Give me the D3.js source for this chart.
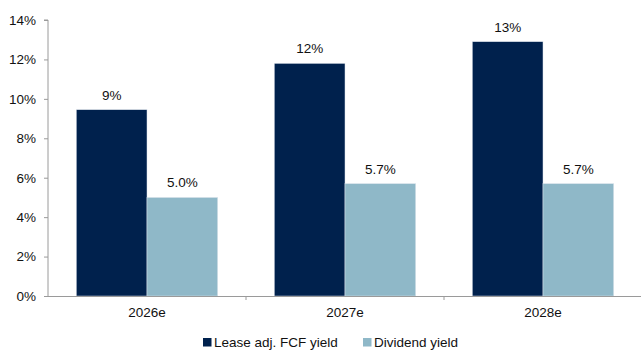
<!DOCTYPE html>
<html>
<head>
<meta charset="utf-8">
<script src="https://cdn.jsdelivr.net/npm/d3@7/dist/d3.min.js"></script>
<style>
  html, body { margin: 0; padding: 0; background: #fff; }
  svg { display: block; font-family: "Liberation Sans", Arial, sans-serif; }
</style>
</head>
<body>
<svg id="chart" width="641" height="352"></svg>
<script>
// Chart data
const categories = ["2026e", "2027e", "2028e"];
const seriesNames = ["Lease adj. FCF yield", "Dividend yield"];
const fcfYield = [9.45, 11.8, 12.9];
const dividendYield = [5.0, 5.7, 5.7];
const yTicks = [0, 2, 4, 6, 8, 10, 12, 14];
const seriesColors = ["#00214D", "#8FB8C8"];
const labelFormats = [d3.format(".0f"), d3.format(".1f")];

const series = [fcfYield, dividendYield];

const svg = d3.select("#chart");
const margin = { left: 48 };

const x = d3.scaleBand()
  .domain(categories)
  .range([margin.left, 642])
  .paddingInner(0)
  .paddingOuter(0);

const inner = d3.scaleBand()
  .domain(d3.range(series.length))
  .range([0, x.bandwidth()])
  .paddingInner(0)
  .paddingOuter(0.4);

const y = d3.scaleLinear()
  .domain([0, 14])
  .range([296, 20]);

const axisColor = "#9a9a9a";
const textColor = "#111";
const fontSize = "13.5px";

// Y axis
const yAxis = svg.append("g")
  .attr("transform", `translate(${margin.left},0)`)
  .call(d3.axisLeft(y).tickValues(yTicks).tickSize(4).tickPadding(8)
    .tickFormat(d => d + "%"));
yAxis.select(".domain").attr("stroke", axisColor).attr("d", `M-4,${y(14)}H0V${y(0)}`);
yAxis.selectAll(".tick line").attr("stroke", axisColor);
yAxis.selectAll(".tick text")
  .attr("fill", textColor)
  .style("font-size", fontSize)
  .style("font-family", "'Liberation Sans', Arial, sans-serif");

// Bars
const groups = svg.append("g").selectAll("g")
  .data(categories)
  .join("g")
  .attr("transform", d => `translate(${x(d)},0)`);

series.forEach((vals, si) => {
  groups.append("rect")
    .attr("x", inner(si))
    .attr("width", inner.bandwidth())
    .attr("y", (d, i) => y(vals[i]))
    .attr("height", (d, i) => y(0) - y(vals[i]))
    .attr("fill", seriesColors[si])
    .attr("stroke", "#dfe6ee")
    .attr("stroke-width", 0.5);

  groups.append("text")
    .attr("x", inner(si) + inner.bandwidth() / 2)
    .attr("y", (d, i) => y(vals[i]) - 10)
    .attr("text-anchor", "middle")
    .attr("fill", textColor)
    .style("font-size", fontSize)
    .text((d, i) => labelFormats[si](vals[i]) + "%");
});

// X axis
const xAxis = svg.append("g")
  .attr("transform", `translate(0,${y(0)})`)
  .call(d3.axisBottom(x).tickSize(0).tickPadding(11));
xAxis.select(".domain").attr("stroke", axisColor).attr("d", `M${margin.left},0.5H641`);
xAxis.selectAll(".tick text")
  .attr("fill", textColor)
  .style("font-size", fontSize)
  .style("font-family", "'Liberation Sans', Arial, sans-serif");

// Separators between categories
svg.append("g").selectAll("line")
  .data(categories.slice(1))
  .join("line")
  .attr("x1", d => x(d)).attr("x2", d => x(d))
  .attr("y1", y(0)).attr("y2", y(0) + 4)
  .attr("stroke", axisColor);

// Legend
const legend = svg.append("g").attr("transform", "translate(0,347)");
const legendItems = [
  { name: seriesNames[0], color: seriesColors[0], x: 203 },
  { name: seriesNames[1], color: seriesColors[1], x: 363 }
];
legendItems.forEach(it => {
  legend.append("rect")
    .attr("x", it.x).attr("y", -9).attr("width", 8.5).attr("height", 8.5)
    .attr("fill", it.color);
  legend.append("text")
    .attr("x", it.x + 11).attr("y", 0)
    .attr("fill", textColor)
    .style("font-size", fontSize)
    .text(it.name);
});
</script>
</body>
</html>
